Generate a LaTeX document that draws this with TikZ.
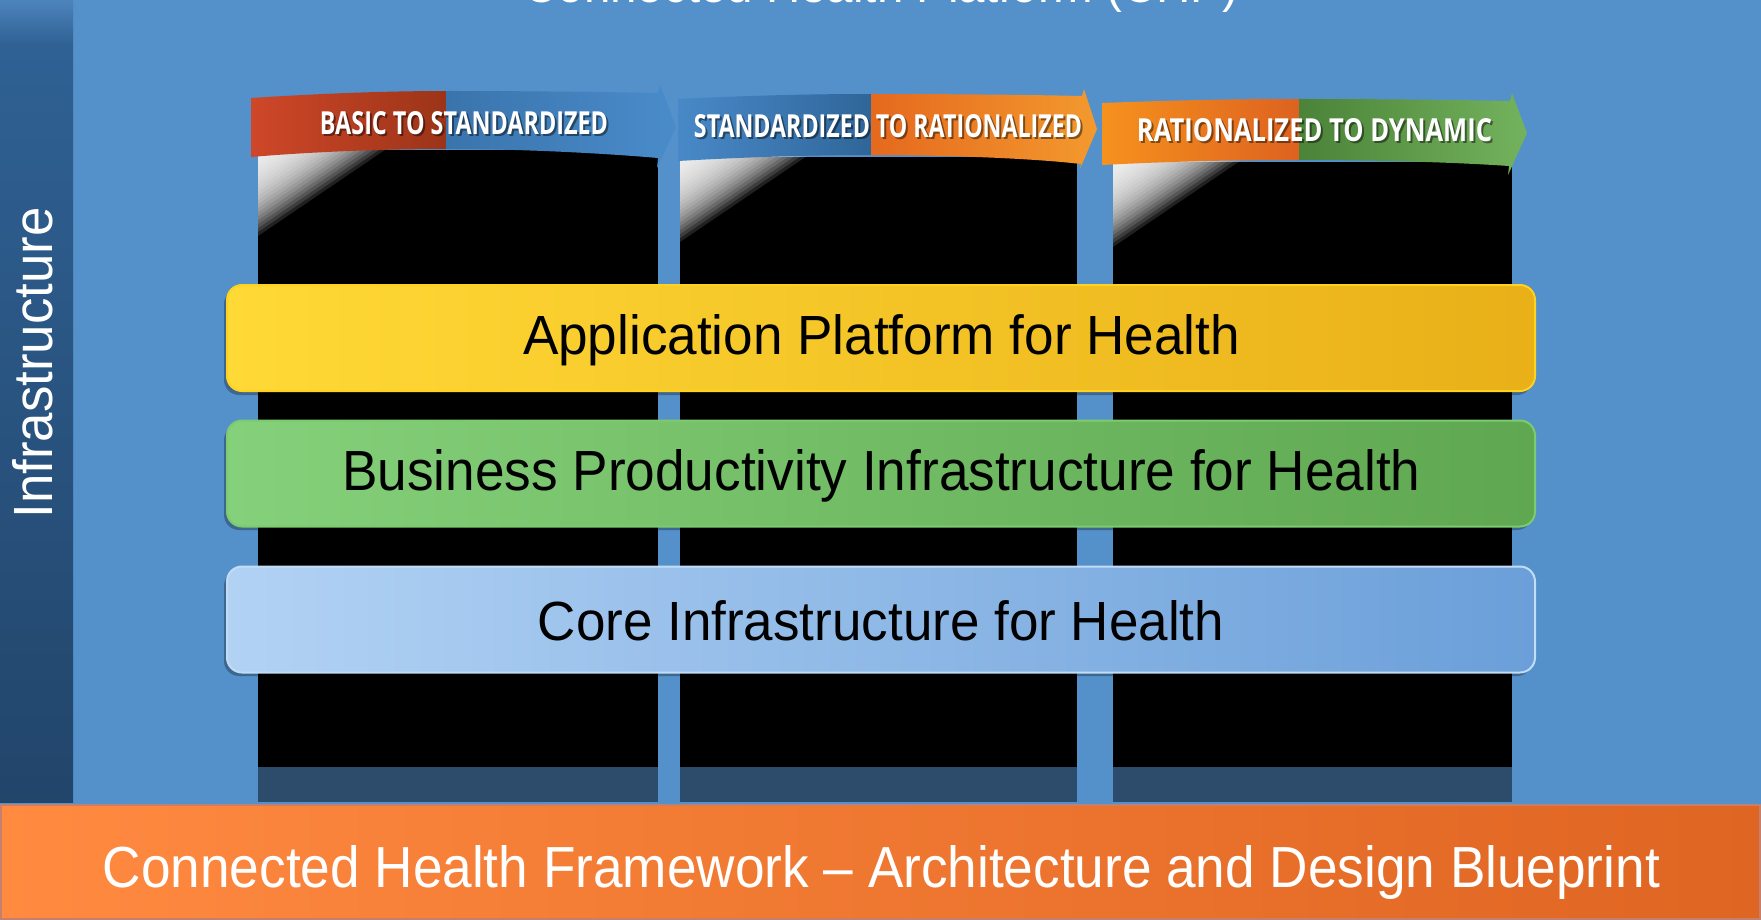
\documentclass[tikz,border=0pt]{standalone}
\usepackage{fontspec}
\usepackage{graphicx}
\setmainfont{Liberation Sans}
\newfontfamily\bannerfont{Open Sans}
\newcommand\fitbox[3]{\resizebox{#1}{#2}{#3}}
\definecolor{bg}{HTML}{5490C9}
\definecolor{lbA}{HTML}{4C84BC}
\definecolor{lbB}{HTML}{2F6194}
\definecolor{lbC}{HTML}{22456A}
\definecolor{refl}{HTML}{2D4B6A}
\definecolor{rL}{HTML}{D2482A}
\definecolor{rR}{HTML}{9C3418}
\definecolor{bAL}{HTML}{3A74AC}
\definecolor{bAR}{HTML}{4A8CCB}
\definecolor{bBL}{HTML}{4A8ACA}
\definecolor{bBR}{HTML}{2F6699}
\definecolor{oBL}{HTML}{E5691E}
\definecolor{oBR}{HTML}{F39A2E}
\definecolor{oCL}{HTML}{F7931E}
\definecolor{oCR}{HTML}{DD621F}
\definecolor{gCL}{HTML}{4B8338}
\definecolor{gCR}{HTML}{74B35E}
\definecolor{yL}{HTML}{FFD936}
\definecolor{yR}{HTML}{E9B018}
\definecolor{yB}{HTML}{FFD21F}
\definecolor{grL}{HTML}{85D07A}
\definecolor{grR}{HTML}{5FA751}
\definecolor{grB}{HTML}{7CCB6E}
\definecolor{blL}{HTML}{B2D2F4}
\definecolor{blR}{HTML}{6B9FD9}
\definecolor{blB}{HTML}{C2DCF6}
\definecolor{orL}{HTML}{FF8A40}
\definecolor{orR}{HTML}{DF6522}
\definecolor{orB}{HTML}{C4806E}
\tikzset{
  bar/.style={rounded corners=7.5pt, minimum width=654pt, minimum height=53pt, line width=1pt, inner sep=0pt},
  barshadow/.style={fill=black, opacity=0.28, rounded corners=7.5pt},
  txt/.style={inner sep=0pt, outer sep=0pt, anchor=base},
  btxt/.style={txt, text=white, font=\bannerfont\bfseries},
  bshadow/.style={txt, text=black, opacity=0.45, font=\bannerfont\bfseries},
  column/.style={fill=black},
  reflection/.style={fill=refl},
  glosslayer/.style={fill=white, opacity=0.13},
}
\newcommand\glossat[2]{%
  \foreach \i in {1,...,22} {
    \fill[glosslayer] (#1,#2) -- ({#1+5.9*\i},#2) -- (#1,{#2+4.0*\i}) -- cycle;
  }%
}
\begin{document}
\begin{tikzpicture}[x=0.5pt,y=-0.5pt]
\useasboundingbox (0,0) rectangle (1761,920);
\fill[bg] (0,0) rectangle (1761,920);

% left bar
\shade[top color=lbA, bottom color=lbB] (0,0) rectangle (73,45);
\shade[top color=lbB, bottom color=lbC] (0,45) rectangle (73,802);

% title (cut off at top)
\node[txt, text=white] (title) at (881,3) {\fitbox{357.5pt}{17.5pt}{Connected Health Platform (CHP)}};

% columns
\fill[column] (258,150) rectangle (658,767);
\fill[column] (680,157) rectangle (1077,767);
\fill[column] (1113,162) rectangle (1512,767);
% glosses
\glossat{258}{148}
\glossat{680}{154}
\glossat{1113}{159}
% reflections
\fill[reflection] (258,767) rectangle (658,802);
\fill[reflection] (680,767) rectangle (1077,802);
\fill[reflection] (1113,767) rectangle (1512,802);

% banner 1
\begin{scope}
\clip (251,98) .. controls (330,93) and (390,91) .. (449,91) .. controls (530,91) and (600,92) .. (658,93) -- (660,85) -- (676,127) -- (657,168) -- (658,158) .. controls (600,153) and (520,149) .. (449,149) .. controls (380,149) and (310,152) .. (251,157) -- cycle;
\shade[left color=rL, right color=rR] (240,80) rectangle (446,175);
\shade[left color=bAL, right color=bAR] (446,80) rectangle (680,175);
\end{scope}
% banner 2
\begin{scope}
\clip (678,99) .. controls (760,95) and (820,94) .. (871,94) .. controls (960,94) and (1040,95) .. (1082,96) -- (1084,89) -- (1097,129) -- (1080,169) -- (1081,164) .. controls (1030,158) and (940,155) .. (871,155) .. controls (800,155) and (730,158) .. (678,161) -- cycle;
\shade[left color=bBL, right color=bBR] (670,80) rectangle (871,180);
\shade[left color=oBL, right color=oBR] (871,80) rectangle (1100,180);
\end{scope}
% banner 3
\begin{scope}
\clip (1102,103) .. controls (1180,100) and (1240,99) .. (1299,99) .. controls (1390,99) and (1460,100) .. (1510,101) -- (1512,93) -- (1527,133) -- (1508,175) -- (1509,166) .. controls (1450,162) and (1370,160) .. (1299,160) .. controls (1220,160) and (1160,162) .. (1102,165) -- cycle;
\shade[left color=oCL, right color=oCR] (1095,85) rectangle (1299,185);
\shade[left color=gCL, right color=gCR] (1299,85) rectangle (1530,185);
\end{scope}

% banner texts
\node[bshadow] at (466,136) {\fitbox{144pt}{11.5pt}{BASIC TO STANDARDIZED}};
\node[btxt] (b1) at (464,134) {\fitbox{144pt}{11.5pt}{BASIC TO STANDARDIZED}};
\node[bshadow] at (890,139) {\fitbox{194pt}{11.5pt}{STANDARDIZED TO RATIONALIZED}};
\node[btxt] (b2) at (888,137) {\fitbox{194pt}{11.5pt}{STANDARDIZED TO RATIONALIZED}};
\node[bshadow] at (1316.5,143.5) {\fitbox{177.5pt}{11.5pt}{RATIONALIZED TO DYNAMIC}};
\node[btxt] (b3) at (1314.5,141.5) {\fitbox{177.5pt}{11.5pt}{RATIONALIZED TO DYNAMIC}};

% layer bars
\fill[barshadow] (224,289) rectangle (1532,395);
\node[bar, left color=yL, right color=yR, draw=yB] (app) at (881,338) {};
\node[txt] (apptext) at (881.5,354) {\fitbox{358.5pt}{20pt}{Application Platform for Health}};

\fill[barshadow] (224,425) rectangle (1532,530);
\node[bar, left color=grL, right color=grR, draw=grB] (bpi) at (881,473.5) {};
\node[txt] (bpitext) at (881.5,490) {\fitbox{539pt}{20.5pt}{Business Productivity Infrastructure for Health}};

\fill[barshadow] (224,571) rectangle (1532,676);
\node[bar, left color=blL, right color=blR, draw=blB] (core) at (881,619.5) {};
\node[txt] (coretext) at (881,640) {\fitbox{343pt}{20pt}{Core Infrastructure for Health}};

% infrastructure label
\node[txt, rotate=90, text=white] (infra) at (53,363) {\fitbox{155.5pt}{20pt}{Infrastructure}};

% bottom band
\node[inner sep=0pt, minimum width=879.5pt, minimum height=57pt, left color=orL, right color=orR, draw=orB, line width=1pt] (band) at (880.5,862) {};
\node[txt, text=white] (framework) at (881.5,887) {\fitbox{778.5pt}{21pt}{Connected Health Framework – Architecture and Design Blueprint}};
\end{tikzpicture}
\end{document}
